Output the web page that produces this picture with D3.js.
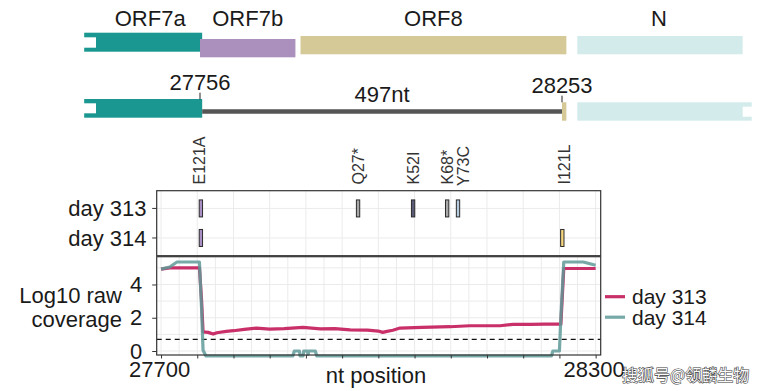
<!DOCTYPE html>
<html>
<head>
<meta charset="utf-8">
<script src="https://cdn.jsdelivr.net/npm/d3@7"></script>
<style>
  body { margin: 0; background: #fff; }
  text { font-family: "Liberation Sans", Arial, Helvetica, sans-serif; fill: #1a1a1a; }
</style>
</head>
<body>
<div id="chart"></div>
<script>
// genome schematic
const genes = ["ORF7a", "ORF7b", "ORF8", "N"];
const gene_start = [27597, 27756, 27894, 28274];
const gene_end = [27759, 27887, 28259, 28501];
const del_start = 27756;
const del_end = 28253;
const del_label = "497nt";

// mutations
const mut_labels = ["E121A", "Q27*", "K52I", "K68*", "Y73C", "I121L"];
const mut_pos = [27755, 27972, 28048, 28095, 28110, 28254];
const days = ["day 313", "day 314"];
const day313_muts = ["E121A", "Q27*", "K52I", "K68*", "Y73C"];
const day314_muts = ["E121A", "I121L"];

// log10 raw coverage
const day313_nt = [27700, 27712, 27730, 27753, 27756, 27758, 27765, 27772, 27777, 27790, 27800, 27815, 27832, 27850, 27870, 27896, 27920, 27940, 27961, 27985, 28000, 28006, 28012, 28020, 28030, 28060, 28099, 28126, 28150, 28168, 28186, 28210, 28230, 28248, 28252, 28256, 28280, 28300];
const day313_val = [4.92, 5.0, 5.0, 5.0, 3.0, 1.15, 1.12, 1.02, 1.1, 1.18, 1.22, 1.3, 1.38, 1.32, 1.35, 1.42, 1.33, 1.35, 1.27, 1.25, 1.2, 1.12, 1.18, 1.25, 1.38, 1.42, 1.46, 1.52, 1.52, 1.52, 1.6, 1.6, 1.62, 1.62, 1.62, 4.96, 4.96, 4.96];
const day314_nt = [27700, 27712, 27722, 27753, 27756, 27758, 27762, 27882, 27884, 27891, 27892, 27896, 27897, 27902, 27903, 27904, 27913, 27915, 28239, 28241, 28250, 28252, 28256, 28283, 28300];
const day314_val = [4.92, 5.05, 5.35, 5.35, 2.5, 0.05, -0.3, -0.3, 0, 0, -0.3, -0.3, 0, 0, -0.2, 0, 0, -0.3, -0.3, 0, 0, 2.0, 5.35, 5.35, 5.16];
const threshold = Math.log10(5);

const x_ticks = d3.range(27700, 28301, 50);
const x_labels = [27700, 28300];
const y_ticks = [0, 2, 4];

function draw_chart()
{
    const width = 763, height = 391;
    const svg = d3.select("#chart").append("svg")
        .attr("width", width)
        .attr("height", height);

    const gene_colors = {"ORF7a": "#1b9792", "ORF7b": "#ab90bd", "ORF8": "#d5c997", "N": "#d3eceb"};
    const gene_rows = {"ORF7a": [32.7, 51.7], "ORF7b": [39, 57.3], "ORF8": [36, 54.3], "N": [36, 54.3]};
    const mut_colors = {"E121A": "#a88ec2", "Q27*": "#a8a8a8", "K52I": "#5b5b78", "K68*": "#a8a8a8", "Y73C": "#b5c9df", "I121L": "#f6d57f"};

    // ---------- schematic ----------
    const scale_g = d3.scaleLinear().domain([del_start, del_end]).range([200, 562]);

    genes.forEach((g, i) => {
        svg.append("rect")
            .attr("x", scale_g(gene_start[i]))
            .attr("y", gene_rows[g][0])
            .attr("width", scale_g(gene_end[i]) - scale_g(gene_start[i]))
            .attr("height", gene_rows[g][1] - gene_rows[g][0])
            .attr("fill", gene_colors[g]);
        svg.append("text")
            .attr("x", g === "N" ? 659 : (scale_g(gene_start[i]) + scale_g(gene_end[i])) / 2 + (g === "ORF7a" ? 7 : 0))
            .attr("y", 26)
            .attr("text-anchor", "middle")
            .style("font-size", "22px")
            .text(g);
    });
    // truncation notch
    svg.append("rect").attr("x", 84).attr("y", 37.3).attr("width", 12).attr("height", 10.4).attr("fill", "#fff");

    // second row: deletion
    svg.append("rect")
        .attr("x", scale_g(gene_start[0])).attr("y", 99)
        .attr("width", scale_g(gene_end[0]) - scale_g(gene_start[0])).attr("height", 18.7)
        .attr("fill", gene_colors["ORF7a"]);
    svg.append("rect").attr("x", 84).attr("y", 103.3).attr("width", 12).attr("height", 10).attr("fill", "#fff");
    svg.append("line")
        .attr("x1", scale_g(gene_end[0])).attr("x2", scale_g(del_end))
        .attr("y1", 111.6).attr("y2", 111.6)
        .attr("stroke", "#555").attr("stroke-width", 4.5);
    svg.append("rect")
        .attr("x", scale_g(del_end)).attr("y", 102.3)
        .attr("width", scale_g(gene_end[2]) - scale_g(del_end)).attr("height", 18.4)
        .attr("fill", gene_colors["ORF8"]);
    svg.append("rect")
        .attr("x", scale_g(gene_start[3])).attr("y", 102.3)
        .attr("width", 751.7 - scale_g(gene_start[3])).attr("height", 18.4)
        .attr("fill", gene_colors["N"]);
    svg.append("rect").attr("x", 742.7).attr("y", 106.7).attr("width", 10).attr("height", 10).attr("fill", "#fff");

    [del_start, del_end].forEach((p, i) => {
        const px = i === 0 ? 200 : scale_g(p);
        svg.append("line")
            .attr("x1", px).attr("x2", px)
            .attr("y1", i === 0 ? 92.7 : 95.7).attr("y2", i === 0 ? 99.3 : 102.3)
            .attr("stroke", "#222").attr("stroke-width", 1);
        svg.append("text")
            .attr("x", px).attr("y", i === 0 ? 90 : 93)
            .attr("text-anchor", "middle")
            .style("font-size", "22px")
            .text(p);
    });
    svg.append("text")
        .attr("x", 382).attr("y", 102)
        .attr("text-anchor", "middle")
        .style("font-size", "22px")
        .text(del_label);

    // ---------- panels ----------
    const left = 156.7, right = 600.7;
    const mut_top = 190.7, mut_bottom = 255.7;
    const cov_top = 256.7, cov_bottom = 355;

    const scale_x = d3.scaleLinear().domain([27694, 28307]).range([left, right]);
    const scale_day = d3.scalePoint().domain(days).range([mut_top, mut_bottom]).padding(0.6);
    const scale_y = d3.scaleLinear().domain([-0.24, 5.67]).range([cov_bottom, cov_top]);

    const grid = "#ebebeb";

    // mutation panel
    const mut_g = svg.append("g");
    x_ticks.forEach(t => {
        mut_g.append("line")
            .attr("x1", scale_x(t)).attr("x2", scale_x(t))
            .attr("y1", mut_top).attr("y2", mut_bottom)
            .attr("stroke", grid).attr("stroke-width", 1);
    });
    days.forEach(d => {
        mut_g.append("line")
            .attr("x1", left).attr("x2", right)
            .attr("y1", scale_day(d)).attr("y2", scale_day(d))
            .attr("stroke", grid).attr("stroke-width", 1);
    });

    const mut_calls = [
        ...day313_muts.map(m => ({day: "day 313", label: m})),
        ...day314_muts.map(m => ({day: "day 314", label: m}))
    ];
    const pos_of = d => mut_pos[mut_labels.indexOf(d.label)];
    mut_g.selectAll("rect.mut")
        .data(mut_calls)
        .join("rect")
        .attr("class", "mut")
        .attr("x", d => scale_x(pos_of(d) - 2.3))
        .attr("y", d => scale_day(d.day) - 8.5)
        .attr("width", d => scale_x(pos_of(d) + 2.3) - scale_x(pos_of(d) - 2.3))
        .attr("height", 17)
        .attr("fill", d => mut_colors[d.label])
        .attr("stroke", "#2b2b2b")
        .attr("stroke-width", 1);

    mut_g.append("rect")
        .attr("x", left).attr("y", mut_top)
        .attr("width", right - left).attr("height", mut_bottom - mut_top)
        .attr("fill", "none").attr("stroke", "#333").attr("stroke-width", 1.2);

    const label_shift = {"Y73C": 5, "I121L": 2, "E121A": -1};
    mut_labels.forEach((m, i) => {
        const px = scale_x(mut_pos[i]) + (label_shift[m] || 0);
        svg.append("text")
            .attr("transform", `translate(${px}, ${m === "Y73C" ? 186 : 184.5}) rotate(-90)`)
            .attr("dy", "0.35em")
            .attr("text-anchor", "start")
            .style("font-size", "16px")
            .style("fill", "#333")
            .text(m);
    });

    days.forEach(d => {
        svg.append("line")
            .attr("x1", left - 4.5).attr("x2", left)
            .attr("y1", scale_day(d)).attr("y2", scale_day(d))
            .attr("stroke", "#333");
        svg.append("text")
            .attr("x", 146.5).attr("y", scale_day(d))
            .attr("dy", "0.35em")
            .attr("text-anchor", "end")
            .style("font-size", "22px")
            .text(d);
    });

    // coverage panel
    const cov_g = svg.append("g");
    d3.range(27700, 28301, 25).forEach(t => {
        cov_g.append("line")
            .attr("x1", scale_x(t)).attr("x2", scale_x(t))
            .attr("y1", cov_top).attr("y2", cov_bottom)
            .attr("stroke", grid).attr("stroke-width", 1);
    });
    d3.range(0, 6).forEach(t => {
        cov_g.append("line")
            .attr("x1", left).attr("x2", right)
            .attr("y1", scale_y(t)).attr("y2", scale_y(t))
            .attr("stroke", grid).attr("stroke-width", 1);
    });
    cov_g.append("line")
        .attr("x1", left).attr("x2", right)
        .attr("y1", scale_y(threshold)).attr("y2", scale_y(threshold))
        .attr("stroke", "#111").attr("stroke-width", 1.2)
        .attr("stroke-dasharray", "5,4");

    const line = d3.line().x(d => scale_x(d[0])).y(d => scale_y(d[1]));
    const series = [
        {name: "day 313", color: "#c41d5c", opacity: 0.92, pts: d3.zip(day313_nt, day313_val)},
        {name: "day 314", color: "#5e9a98", opacity: 0.85, pts: d3.zip(day314_nt, day314_val)}
    ];
    series.forEach(s => {
        cov_g.append("path")
            .attr("d", line(s.pts))
            .attr("fill", "none")
            .attr("stroke", s.color)
            .attr("stroke-opacity", s.opacity)
            .attr("stroke-width", 3.2)
            .attr("stroke-linejoin", "round");
    });

    cov_g.append("rect")
        .attr("x", left).attr("y", cov_top)
        .attr("width", right - left).attr("height", cov_bottom - cov_top)
        .attr("fill", "none").attr("stroke", "#333").attr("stroke-width", 1.2);

    // axes
    const x_axis = svg.append("g")
        .attr("transform", `translate(0, ${cov_bottom})`)
        .call(d3.axisBottom(scale_x).tickValues(x_ticks).tickSize(3.5).tickFormat(t => x_labels.includes(t) ? t : ""));
    x_axis.select(".domain").remove();
    x_axis.selectAll("line").attr("stroke", "#333");
    x_axis.selectAll("text")
        .attr("dx", "-2")
        .attr("y", 6)
        .style("font-size", "22px")
        .style("font-family", "'Liberation Sans', Arial, sans-serif")
        .style("fill", "#1a1a1a");

    const y_axis = svg.append("g")
        .attr("transform", `translate(${left}, 0)`)
        .call(d3.axisLeft(scale_y).tickValues(y_ticks).tickSize(4.5).tickPadding(10).tickFormat(d3.format("d")));
    y_axis.select(".domain").remove();
    y_axis.selectAll("line").attr("stroke", "#333");
    y_axis.selectAll("text")
        .style("font-size", "22px")
        .style("font-family", "'Liberation Sans', Arial, sans-serif")
        .style("fill", "#1a1a1a");

    svg.append("text")
        .attr("x", 376).attr("y", 383)
        .attr("text-anchor", "middle")
        .style("font-size", "22px")
        .text("nt position");

    const y_title = svg.append("text")
        .attr("text-anchor", "end")
        .style("font-size", "22px");
    y_title.append("tspan").attr("x", 122).attr("y", 303).text("Log10 raw");
    y_title.append("tspan").attr("x", 122).attr("y", 327).text("coverage");

    // legend
    series.forEach((s, i) => {
        const ly = 296.7 + i * 20.5;
        svg.append("line")
            .attr("x1", 605).attr("x2", 625)
            .attr("y1", ly).attr("y2", ly)
            .attr("stroke", s.color)
            .attr("stroke-opacity", s.opacity)
            .attr("stroke-width", 3.2);
        svg.append("text")
            .attr("x", 632).attr("y", ly)
            .attr("dy", "0.35em")
            .style("font-size", "21px")
            .text(s.name);
    });

    // watermark
    svg.append("text")
        .attr("x", 622).attr("y", 381)
        .style("font-family", "'Noto Sans CJK SC', sans-serif")
        .style("font-size", "16px")
        .style("fill", "#fafafa")
        .style("stroke", "#3a3a3a")
        .style("stroke-width", 1.1)
        .style("paint-order", "stroke")
        .text("搜狐号@领麟生物");
}
draw_chart();
</script>
</body>
</html>
